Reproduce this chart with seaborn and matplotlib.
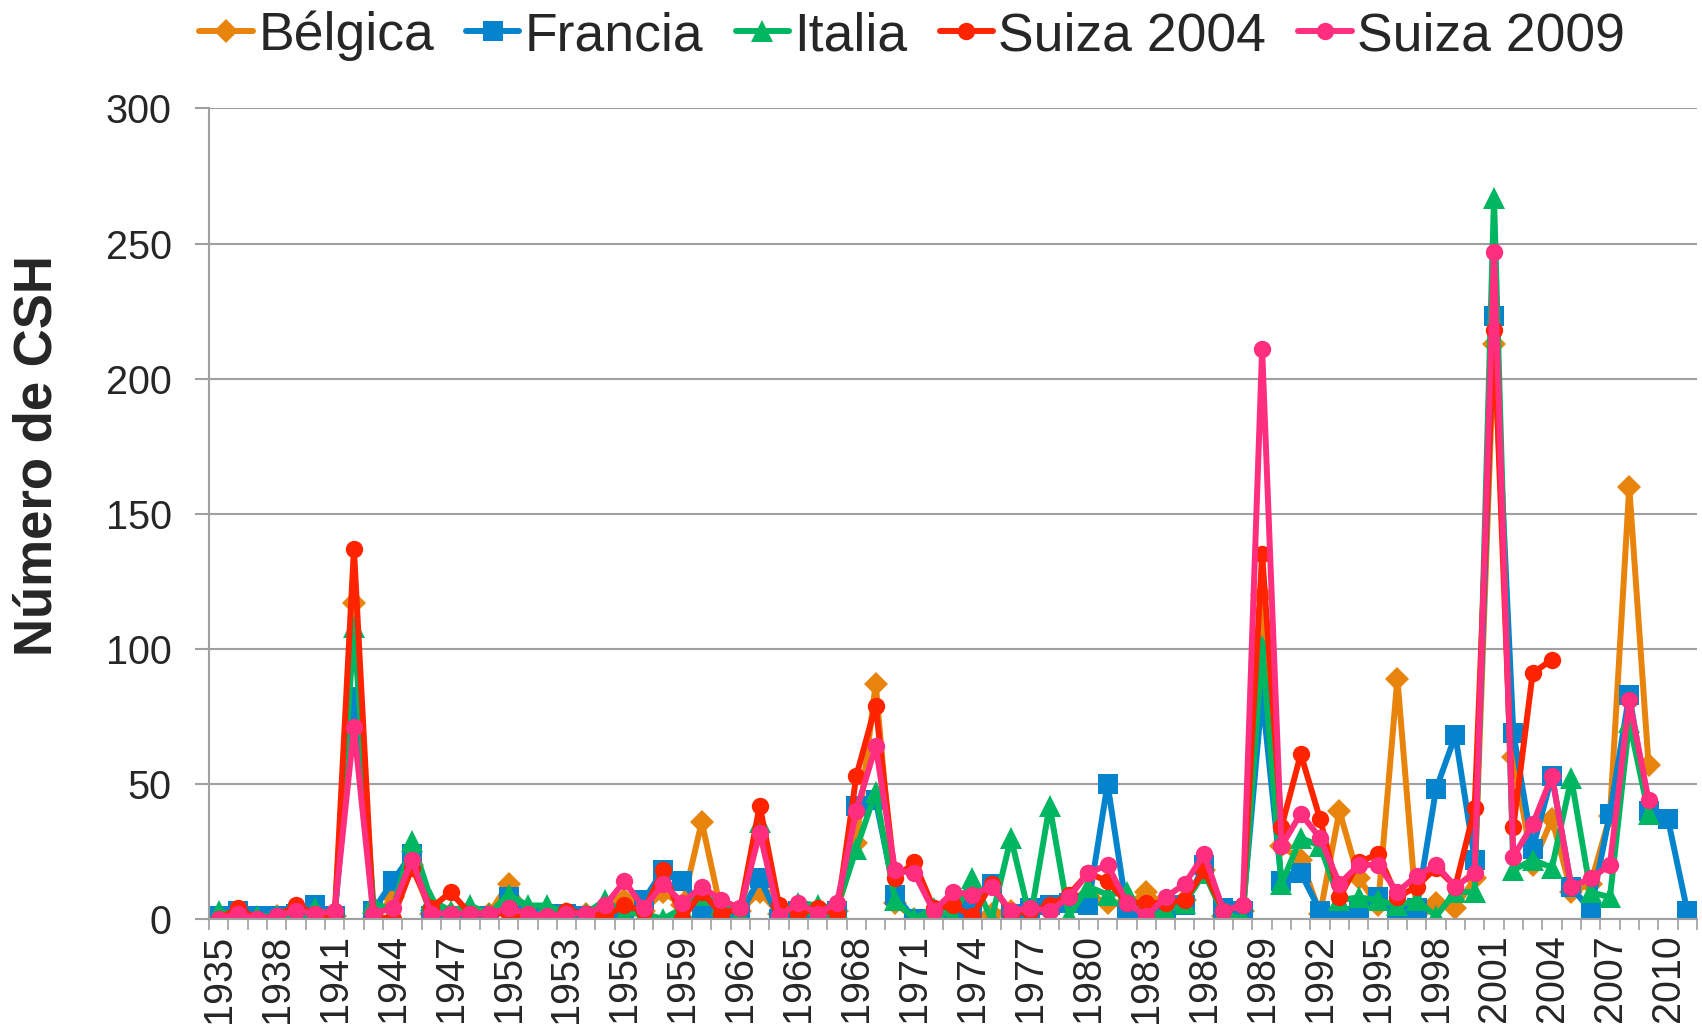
import numpy as np
import pandas as pd
import matplotlib
matplotlib.use("Agg")
import matplotlib.pyplot as plt
import seaborn as sns

years = list(range(1935, 2012))

belgica = [0, 1, 0, 1, 1, 2, 1, 117, 0, 8,
           20, 2, 2, 2, 2, 13, 2, 1, 2, 2,
           4, 7, 3, 10, 5, 36, 3, 3, 10, 2,
           3, 0, 3, 28, 87, 6, 0, 2, 2, 1,
           2, 3, 3, 3, 5, 9, 6, 5, 10, 5,
           7, 18, 1, 3, 120, 27, 22, 2, 40, 15,
           5, 89, 2, 6, 4, 15, 213, 60, 20, 37,
           10, 13, 38, 160, 57]
francia = [1, 3, 1, 1, 2, 5, 1, 82, 3, 14,
           24, 1, 1, 1, 1, 8, 1, 2, 2, 1,
           2, 0, 7, 18, 14, 4, 0, 2, 15, 0,
           3, 2, 3, 42, 44, 9, 0, 0, 1, 4,
           13, 2, 4, 5, 6, 5, 50, 3, 2, 3,
           5, 20, 4, 3, 83, 14, 17, 3, 1, 4,
           8, 3, 4, 48, 68, 22, 223, 69, 26, 53,
           12, 3, 39, 83, 40, 37, 3]
italia = [3, 1, 1, 1, 1, 4, 0, 108, 6, 3,
          29, 7, 3, 5, 2, 9, 5, 5, 2, 2,
          7, 2, 2, 0, 4, 9, 5, 2, 36, 2,
          6, 5, 4, 26, 47, 7, 0, 4, 1, 15,
          0, 30, 0, 42, 1, 12, 9, 10, 0, 3,
          6, 17, 2, 0, 101, 13, 30, 27, 7, 8,
          7, 5, 7, 1, 10, 10, 267, 18, 22, 19,
          52, 10, 8, 73, 39]
suiza2004 = [0, 4, 0, 1, 5, 2, 0, 137, 1, 0,
             19, 4, 10, 2, 2, 2, 1, 0, 3, 2,
             1, 5, 3, 18, 0, 10, 2, 4, 42, 5,
             2, 4, 2, 53, 79, 15, 21, 4, 5, 1,
             13, 2, 3, 5, 9, 17, 14, 6, 6, 6,
             7, 18, 3, 5, 135, 34, 61, 37, 8, 21,
             24, 8, 12, 19, 12, 41, 218, 34, 91, 96]
suiza2009 = [0, 2, 0, 1, 3, 2, 3, 71, 2, 4,
             22, 2, 2, 2, 2, 4, 2, 1, 2, 2,
             5, 14, 4, 13, 6, 12, 7, 4, 32, 1,
             6, 2, 6, 40, 64, 18, 17, 3, 10, 9,
             12, 3, 4, 3, 8, 17, 20, 6, 1, 8,
             13, 24, 3, 5, 211, 27, 39, 30, 13, 20,
             20, 10, 16, 20, 12, 17, 247, 23, 35, 53,
             12, 15, 20, 81, 44]

series_names = ["Bélgica", "Francia", "Italia", "Suiza 2004", "Suiza 2009"]
series_values = [belgica, francia, italia, suiza2004, suiza2009]
colors = ["#E8830C", "#0583CC", "#00B661", "#FF2300", "#FF2E7E"]
markers = ["D", "s", "^", "o", "o"]
msizes = [12, 14.5, 16, 12.5, 12.5]
xtick_labels = [str(y) for y in years[::3]]

sns.set_theme(style="white")
plt.rcParams["font.family"] = ["Liberation Sans", "DejaVu Sans"]

fig = plt.figure(figsize=(17.02, 10.26), dpi=100)
ax = fig.add_axes([0.1228, 0.1043, 0.8742, 0.79])

for name, vals, c, m, ms in zip(series_names, series_values, colors, markers, msizes):
    df = pd.DataFrame({"year": years[:len(vals)], "n": vals})
    sns.lineplot(data=df, x="year", y="n", ax=ax, color=c, marker=m,
                 markersize=ms, markeredgecolor=c, markeredgewidth=0,
                 linewidth=4.3, label=name)

ax.set_xlim(1934.5, 2011.5)
ax.set_ylim(0, 300)
ax.set_yticks(np.arange(0, 301, 50))
ax.yaxis.grid(True, color="#A0A0A0", linewidth=1.5)
ax.xaxis.grid(False)
ax.set_axisbelow(True)
ax.set_xticks(years[::3])
ax.set_xticklabels(xtick_labels, rotation=90)
ax.set_xticks(np.arange(1934.5, 2012, 1), minor=True)
ax.tick_params(axis="x", which="major", length=0, pad=11, labelsize=28.5)
ax.tick_params(axis="x", which="minor", length=8, width=1.2, color="#A0A0A0", bottom=True)
ax.tick_params(axis="y", which="major", length=10, width=1.5, color="#A0A0A0",
               pad=17, labelsize=28.5, left=True)
ax.set_xlabel("")
ax.set_ylabel("")
for s in ["top", "right"]:
    ax.spines[s].set_visible(False)
for s in ["left", "bottom"]:
    ax.spines[s].set_color("#A0A0A0")
    ax.spines[s].set_linewidth(1.5)

handles, labels = ax.get_legend_handles_labels()
if ax.get_legend() is not None:
    ax.get_legend().remove()
fig.legend(handles, labels, loc="center", bbox_to_anchor=(0.536, 0.965), ncol=5,
           frameon=False, fontsize=38.5, handlelength=1.0, handletextpad=0.1,
           columnspacing=0.6, borderaxespad=0, borderpad=0)

fig.text(0.0223, 0.5556, "Número de CSH", rotation=90, ha="center", va="center",
         fontsize=38, fontweight="bold")

fig.savefig("out.png", dpi=100)
